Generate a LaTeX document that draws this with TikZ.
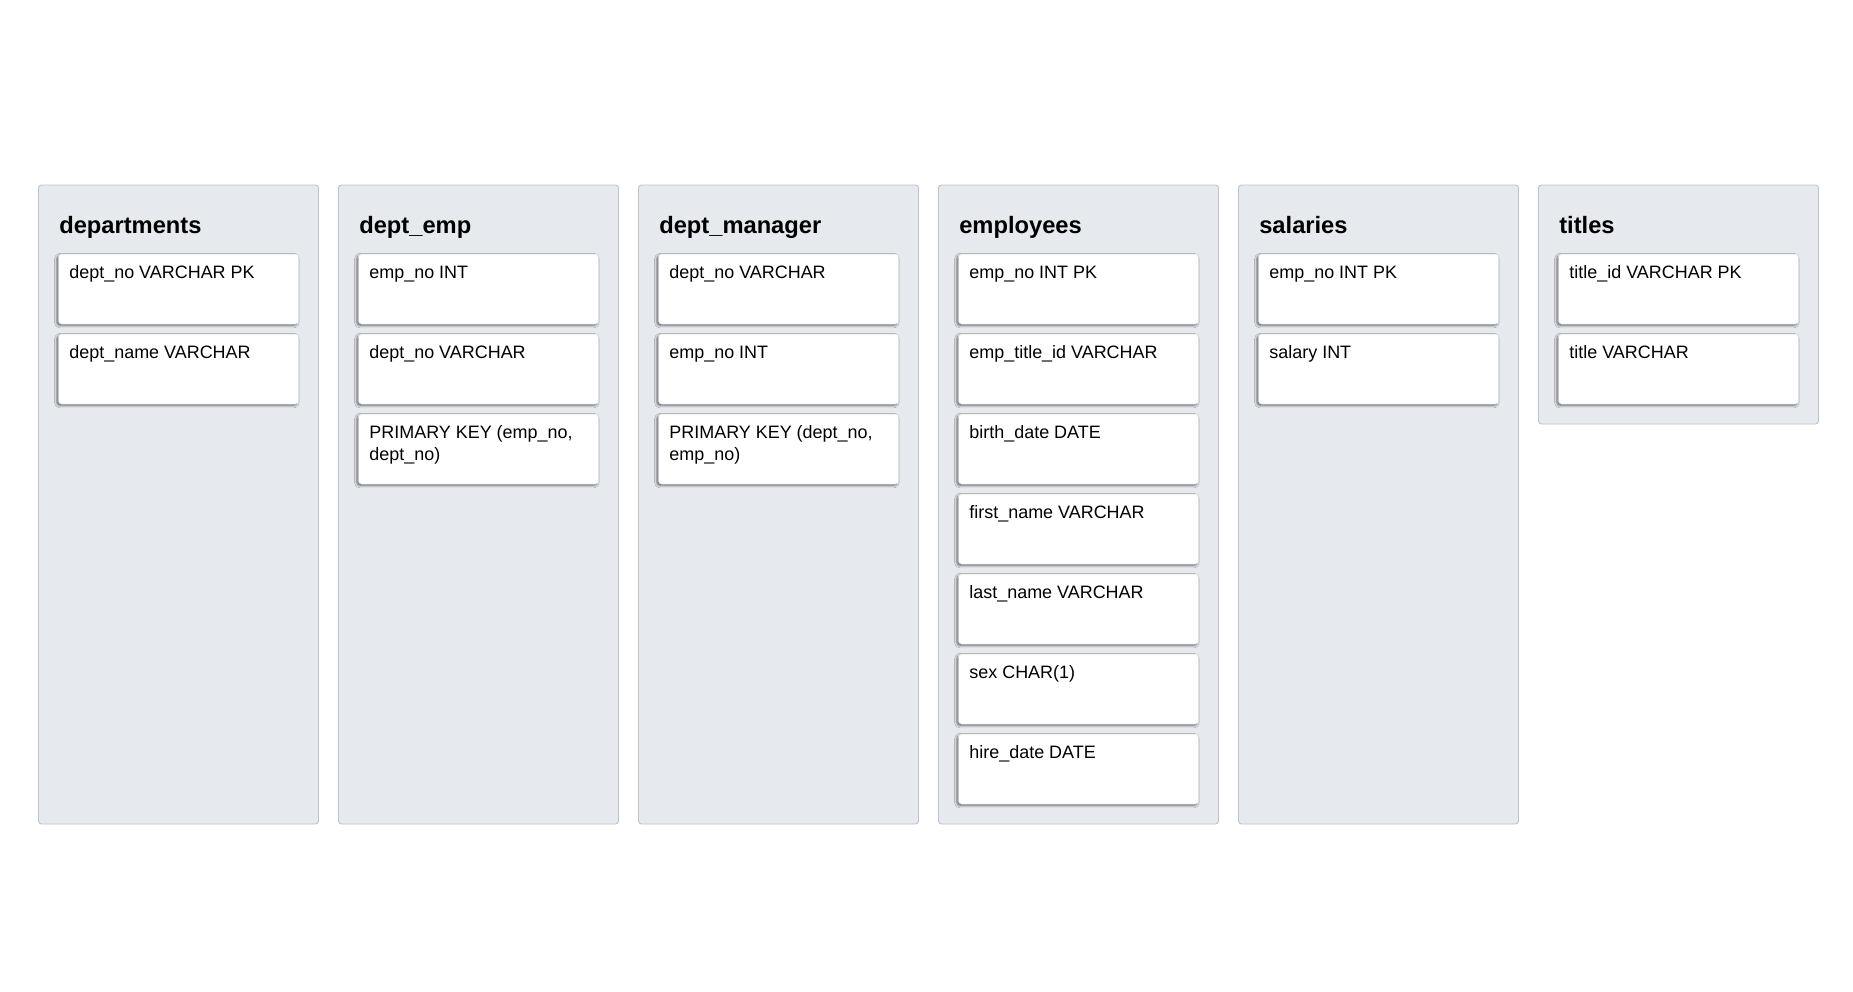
\documentclass[tikz,border=0pt]{standalone}
\usepackage{fontspec}
\setmainfont{Liberation Sans}
\usetikzlibrary{shadows.blur}
\definecolor{panelfill}{HTML}{E6E9EE}
\definecolor{panelline}{HTML}{BCC3CC}
\definecolor{fieldline}{HTML}{D3D7DC}
\newcommand\fieldfont{\fontsize{17.95bp}{22.5bp}\selectfont}
\newcommand\titlefont{\fontsize{23.7bp}{28bp}\selectfont\bfseries}
\tikzset{
  panel/.style={draw=panelline, fill=panelfill, line width=0.9bp, rounded corners=3bp,
    anchor=north west, minimum width=280bp, inner sep=0pt, outer sep=0pt},
  field/.style={fill=white, draw=fieldline, line width=0.5bp, rounded corners=3bp,
    anchor=north west, minimum width=240bp, minimum height=70bp, inner sep=0pt, outer sep=0pt,
    blur shadow={shadow xshift=-1.6bp, shadow yshift=-1.6bp, shadow blur radius=2.2bp, shadow opacity=55}},
  ftext/.style={anchor=base west, inner sep=0pt, font=\fieldfont, text=black},
  ttext/.style={anchor=base west, inner sep=0pt, font=\titlefont, text=black},
}
\newcommand\fieldbox[4]{%
  \node[field] (#1) at (#2,{254+80*#3}) {};
  \node[ftext] (#1t) at ([xshift=10.7bp,yshift=-24.3bp]#1.north west)
    {\parbox[t]{222bp}{\raggedright #4}};
}
\newcommand\tablepanel[4]{%
  \node[panel, minimum height=#3 bp] (#1) at (#2,185) {};
  \node[ttext] (#1title) at ([xshift=20.6bp,yshift=-48.3bp]#1.north west) {#4};
}
\begin{document}
\begin{tikzpicture}[x=1bp,y=-1bp]
\useasboundingbox (0,0) rectangle (1853,991);
\fill[white] (0,0) rectangle (1853,991);

% departments
\tablepanel{dep}{38.5}{639}{departments}
\fieldbox{depA}{58.5}{0}{dept\_no VARCHAR PK}
\fieldbox{depB}{58.5}{1}{dept\_name VARCHAR}

% dept_emp
\tablepanel{de}{338.5}{639}{dept\_emp}
\fieldbox{deA}{358.5}{0}{emp\_no INT}
\fieldbox{deB}{358.5}{1}{dept\_no VARCHAR}
\fieldbox{deC}{358.5}{2}{PRIMARY KEY (emp\_no,\newline dept\_no)}

% dept_manager
\tablepanel{dm}{638.5}{639}{dept\_manager}
\fieldbox{dmA}{658.5}{0}{dept\_no VARCHAR}
\fieldbox{dmB}{658.5}{1}{emp\_no INT}
\fieldbox{dmC}{658.5}{2}{PRIMARY KEY (dept\_no,\newline emp\_no)}

% employees
\tablepanel{em}{938.5}{639}{employees}
\fieldbox{emA}{958.5}{0}{emp\_no INT PK}
\fieldbox{emB}{958.5}{1}{emp\_title\_id VARCHAR}
\fieldbox{emC}{958.5}{2}{birth\_date DATE}
\fieldbox{emD}{958.5}{3}{first\_name VARCHAR}
\fieldbox{emE}{958.5}{4}{last\_name VARCHAR}
\fieldbox{emF}{958.5}{5}{sex CHAR(1)}
\fieldbox{emG}{958.5}{6}{hire\_date DATE}

% salaries
\tablepanel{sa}{1238.5}{639}{salaries}
\fieldbox{saA}{1258.5}{0}{emp\_no INT PK}
\fieldbox{saB}{1258.5}{1}{salary INT}

% titles
\tablepanel{ti}{1538.5}{239}{titles}
\fieldbox{tiA}{1558.5}{0}{title\_id VARCHAR PK}
\fieldbox{tiB}{1558.5}{1}{title VARCHAR}
\end{tikzpicture}
\end{document}
